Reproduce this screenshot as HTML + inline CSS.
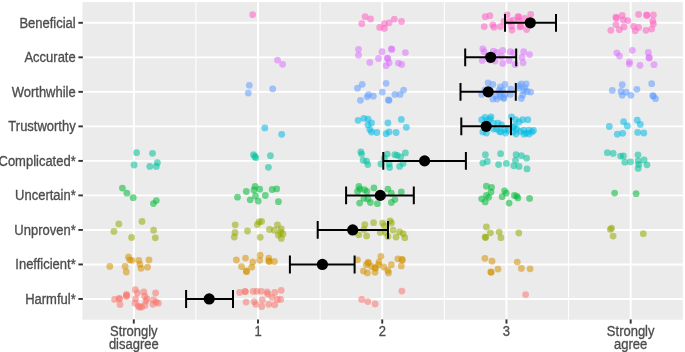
<!DOCTYPE html>
<html><head><meta charset="utf-8"><style>
html,body{margin:0;padding:0;background:#fff;width:685px;height:352px;overflow:hidden}
svg{display:block;will-change:transform}
text{font-family:"Liberation Sans",sans-serif;font-size:13px;fill:#4D4D4D;stroke:#4D4D4D;stroke-width:0.3px}
</style></head><body>
<svg width="685" height="352" viewBox="0 0 685 352">
<rect x="82.4" y="2.1" width="600.4" height="317.59999999999997" fill="#EBEBEB"/>
<line x1="195.91" y1="2.1" x2="195.91" y2="319.7" stroke="#fff" stroke-width="1"/>
<line x1="320.13" y1="2.1" x2="320.13" y2="319.7" stroke="#fff" stroke-width="1"/>
<line x1="444.35" y1="2.1" x2="444.35" y2="319.7" stroke="#fff" stroke-width="1"/>
<line x1="568.57" y1="2.1" x2="568.57" y2="319.7" stroke="#fff" stroke-width="1"/>
<line x1="133.80" y1="2.1" x2="133.80" y2="319.7" stroke="#fff" stroke-width="1.9"/>
<line x1="258.02" y1="2.1" x2="258.02" y2="319.7" stroke="#fff" stroke-width="1.9"/>
<line x1="382.24" y1="2.1" x2="382.24" y2="319.7" stroke="#fff" stroke-width="1.9"/>
<line x1="506.46" y1="2.1" x2="506.46" y2="319.7" stroke="#fff" stroke-width="1.9"/>
<line x1="630.68" y1="2.1" x2="630.68" y2="319.7" stroke="#fff" stroke-width="1.9"/>
<line x1="82.4" y1="22.81" x2="682.8" y2="22.81" stroke="#fff" stroke-width="1.9"/>
<line x1="82.4" y1="57.33" x2="682.8" y2="57.33" stroke="#fff" stroke-width="1.9"/>
<line x1="82.4" y1="91.85" x2="682.8" y2="91.85" stroke="#fff" stroke-width="1.9"/>
<line x1="82.4" y1="126.37" x2="682.8" y2="126.37" stroke="#fff" stroke-width="1.9"/>
<line x1="82.4" y1="160.89" x2="682.8" y2="160.89" stroke="#fff" stroke-width="1.9"/>
<line x1="82.4" y1="195.41" x2="682.8" y2="195.41" stroke="#fff" stroke-width="1.9"/>
<line x1="82.4" y1="229.93" x2="682.8" y2="229.93" stroke="#fff" stroke-width="1.9"/>
<line x1="82.4" y1="264.45" x2="682.8" y2="264.45" stroke="#fff" stroke-width="1.9"/>
<line x1="82.4" y1="298.97" x2="682.8" y2="298.97" stroke="#fff" stroke-width="1.9"/>
<circle cx="252.7" cy="14.7" r="3.4" fill="#FF61C3" fill-opacity="0.55"/>
<circle cx="365.1" cy="16.7" r="3.4" fill="#FF61C3" fill-opacity="0.55"/>
<circle cx="370.6" cy="19.0" r="3.4" fill="#FF61C3" fill-opacity="0.55"/>
<circle cx="361.8" cy="23.7" r="3.4" fill="#FF61C3" fill-opacity="0.55"/>
<circle cx="379.7" cy="27.4" r="3.4" fill="#FF61C3" fill-opacity="0.55"/>
<circle cx="384.4" cy="23.7" r="3.4" fill="#FF61C3" fill-opacity="0.55"/>
<circle cx="384.4" cy="28.4" r="3.4" fill="#FF61C3" fill-opacity="0.55"/>
<circle cx="389.1" cy="22.8" r="3.4" fill="#FF61C3" fill-opacity="0.55"/>
<circle cx="394.3" cy="19.2" r="3.4" fill="#FF61C3" fill-opacity="0.55"/>
<circle cx="401.5" cy="21.4" r="3.4" fill="#FF61C3" fill-opacity="0.55"/>
<circle cx="485.2" cy="16.7" r="3.4" fill="#FF61C3" fill-opacity="0.55"/>
<circle cx="489.9" cy="15.7" r="3.4" fill="#FF61C3" fill-opacity="0.55"/>
<circle cx="484.2" cy="26.6" r="3.4" fill="#FF61C3" fill-opacity="0.55"/>
<circle cx="492.8" cy="24.9" r="3.4" fill="#FF61C3" fill-opacity="0.55"/>
<circle cx="494.0" cy="27.2" r="3.4" fill="#FF61C3" fill-opacity="0.55"/>
<circle cx="500.4" cy="26.6" r="3.4" fill="#FF61C3" fill-opacity="0.55"/>
<circle cx="503.9" cy="21.4" r="3.4" fill="#FF61C3" fill-opacity="0.55"/>
<circle cx="507.1" cy="14.9" r="3.4" fill="#FF61C3" fill-opacity="0.55"/>
<circle cx="509.7" cy="21.4" r="3.4" fill="#FF61C3" fill-opacity="0.55"/>
<circle cx="512.0" cy="30.1" r="3.4" fill="#FF61C3" fill-opacity="0.55"/>
<circle cx="513.2" cy="20.2" r="3.4" fill="#FF61C3" fill-opacity="0.55"/>
<circle cx="517.9" cy="16.7" r="3.4" fill="#FF61C3" fill-opacity="0.55"/>
<circle cx="519.0" cy="20.8" r="3.4" fill="#FF61C3" fill-opacity="0.55"/>
<circle cx="520.8" cy="26.0" r="3.4" fill="#FF61C3" fill-opacity="0.55"/>
<circle cx="524.9" cy="18.4" r="3.4" fill="#FF61C3" fill-opacity="0.55"/>
<circle cx="526.6" cy="29.5" r="3.4" fill="#FF61C3" fill-opacity="0.55"/>
<circle cx="530.7" cy="14.3" r="3.4" fill="#FF61C3" fill-opacity="0.55"/>
<circle cx="519.0" cy="16.9" r="3.4" fill="#FF61C3" fill-opacity="0.55"/>
<circle cx="520" cy="26.9" r="3.4" fill="#FF61C3" fill-opacity="0.55"/>
<circle cx="511.5" cy="26.0" r="3.4" fill="#FF61C3" fill-opacity="0.55"/>
<circle cx="615.9" cy="17.2" r="3.4" fill="#FF61C3" fill-opacity="0.55"/>
<circle cx="616.5" cy="18.0" r="3.4" fill="#FF61C3" fill-opacity="0.55"/>
<circle cx="622.2" cy="15.5" r="3.4" fill="#FF61C3" fill-opacity="0.55"/>
<circle cx="623.3" cy="20.0" r="3.4" fill="#FF61C3" fill-opacity="0.55"/>
<circle cx="627.8" cy="20.6" r="3.4" fill="#FF61C3" fill-opacity="0.55"/>
<circle cx="615.9" cy="24.6" r="3.4" fill="#FF61C3" fill-opacity="0.55"/>
<circle cx="610.8" cy="30.3" r="3.4" fill="#FF61C3" fill-opacity="0.55"/>
<circle cx="619.3" cy="29.7" r="3.4" fill="#FF61C3" fill-opacity="0.55"/>
<circle cx="623.9" cy="26.9" r="3.4" fill="#FF61C3" fill-opacity="0.55"/>
<circle cx="633.5" cy="26.3" r="3.4" fill="#FF61C3" fill-opacity="0.55"/>
<circle cx="638.6" cy="27.4" r="3.4" fill="#FF61C3" fill-opacity="0.55"/>
<circle cx="635.2" cy="30.8" r="3.4" fill="#FF61C3" fill-opacity="0.55"/>
<circle cx="638.6" cy="14.4" r="3.4" fill="#FF61C3" fill-opacity="0.55"/>
<circle cx="646.6" cy="14.9" r="3.4" fill="#FF61C3" fill-opacity="0.55"/>
<circle cx="647.0" cy="15.5" r="3.4" fill="#FF61C3" fill-opacity="0.55"/>
<circle cx="653.4" cy="14.9" r="3.4" fill="#FF61C3" fill-opacity="0.55"/>
<circle cx="652.8" cy="21.2" r="3.4" fill="#FF61C3" fill-opacity="0.55"/>
<circle cx="653.4" cy="24.0" r="3.4" fill="#FF61C3" fill-opacity="0.55"/>
<circle cx="646.0" cy="30.3" r="3.4" fill="#FF61C3" fill-opacity="0.55"/>
<circle cx="651.7" cy="29.1" r="3.4" fill="#FF61C3" fill-opacity="0.55"/>
<circle cx="277.5" cy="60.1" r="3.4" fill="#DB72FB" fill-opacity="0.55"/>
<circle cx="282.6" cy="64.3" r="3.4" fill="#DB72FB" fill-opacity="0.55"/>
<circle cx="358.5" cy="49.3" r="3.4" fill="#DB72FB" fill-opacity="0.55"/>
<circle cx="358.5" cy="55.2" r="3.4" fill="#DB72FB" fill-opacity="0.55"/>
<circle cx="369.8" cy="62.4" r="3.4" fill="#DB72FB" fill-opacity="0.55"/>
<circle cx="378.5" cy="58.5" r="3.4" fill="#DB72FB" fill-opacity="0.55"/>
<circle cx="382.0" cy="51.7" r="3.4" fill="#DB72FB" fill-opacity="0.55"/>
<circle cx="391.4" cy="48.8" r="3.4" fill="#DB72FB" fill-opacity="0.55"/>
<circle cx="391.8" cy="49.4" r="3.4" fill="#DB72FB" fill-opacity="0.55"/>
<circle cx="387.3" cy="58.1" r="3.4" fill="#DB72FB" fill-opacity="0.55"/>
<circle cx="387.8" cy="58.6" r="3.4" fill="#DB72FB" fill-opacity="0.55"/>
<circle cx="389.1" cy="62.8" r="3.4" fill="#DB72FB" fill-opacity="0.55"/>
<circle cx="386.1" cy="65.7" r="3.4" fill="#DB72FB" fill-opacity="0.55"/>
<circle cx="398.4" cy="63.1" r="3.4" fill="#DB72FB" fill-opacity="0.55"/>
<circle cx="401.7" cy="64.5" r="3.4" fill="#DB72FB" fill-opacity="0.55"/>
<circle cx="405.4" cy="52.6" r="3.4" fill="#DB72FB" fill-opacity="0.55"/>
<circle cx="482.8" cy="48.8" r="3.4" fill="#DB72FB" fill-opacity="0.55"/>
<circle cx="484.0" cy="51.7" r="3.4" fill="#DB72FB" fill-opacity="0.55"/>
<circle cx="482.3" cy="60.4" r="3.4" fill="#DB72FB" fill-opacity="0.55"/>
<circle cx="493.4" cy="51.1" r="3.4" fill="#DB72FB" fill-opacity="0.55"/>
<circle cx="496.9" cy="52.3" r="3.4" fill="#DB72FB" fill-opacity="0.55"/>
<circle cx="495.1" cy="61.0" r="3.4" fill="#DB72FB" fill-opacity="0.55"/>
<circle cx="502.7" cy="50.5" r="3.4" fill="#DB72FB" fill-opacity="0.55"/>
<circle cx="501.5" cy="56.4" r="3.4" fill="#DB72FB" fill-opacity="0.55"/>
<circle cx="502.7" cy="63.4" r="3.4" fill="#DB72FB" fill-opacity="0.55"/>
<circle cx="510.3" cy="51.7" r="3.4" fill="#DB72FB" fill-opacity="0.55"/>
<circle cx="509.1" cy="60.4" r="3.4" fill="#DB72FB" fill-opacity="0.55"/>
<circle cx="513.8" cy="52.8" r="3.4" fill="#DB72FB" fill-opacity="0.55"/>
<circle cx="515.0" cy="64.5" r="3.4" fill="#DB72FB" fill-opacity="0.55"/>
<circle cx="523.7" cy="51.7" r="3.4" fill="#DB72FB" fill-opacity="0.55"/>
<circle cx="522.0" cy="57.5" r="3.4" fill="#DB72FB" fill-opacity="0.55"/>
<circle cx="523.1" cy="62.8" r="3.4" fill="#DB72FB" fill-opacity="0.55"/>
<circle cx="529.6" cy="54.6" r="3.4" fill="#DB72FB" fill-opacity="0.55"/>
<circle cx="488" cy="56" r="3.4" fill="#DB72FB" fill-opacity="0.55"/>
<circle cx="490" cy="60" r="3.4" fill="#DB72FB" fill-opacity="0.55"/>
<circle cx="616.8" cy="52.8" r="3.4" fill="#DB72FB" fill-opacity="0.55"/>
<circle cx="619.5" cy="56.0" r="3.4" fill="#DB72FB" fill-opacity="0.55"/>
<circle cx="632.4" cy="50.3" r="3.4" fill="#DB72FB" fill-opacity="0.55"/>
<circle cx="629.5" cy="61.9" r="3.4" fill="#DB72FB" fill-opacity="0.55"/>
<circle cx="629.3" cy="64.1" r="3.4" fill="#DB72FB" fill-opacity="0.55"/>
<circle cx="640.0" cy="65.3" r="3.4" fill="#DB72FB" fill-opacity="0.55"/>
<circle cx="648.3" cy="52.5" r="3.4" fill="#DB72FB" fill-opacity="0.55"/>
<circle cx="648.9" cy="57.5" r="3.4" fill="#DB72FB" fill-opacity="0.55"/>
<circle cx="649.3" cy="58.0" r="3.4" fill="#DB72FB" fill-opacity="0.55"/>
<circle cx="654.0" cy="64.7" r="3.4" fill="#DB72FB" fill-opacity="0.55"/>
<circle cx="249.3" cy="85.3" r="3.4" fill="#619CFF" fill-opacity="0.55"/>
<circle cx="248.3" cy="93.1" r="3.4" fill="#619CFF" fill-opacity="0.55"/>
<circle cx="272.7" cy="88.9" r="3.4" fill="#619CFF" fill-opacity="0.55"/>
<circle cx="362.2" cy="84.3" r="3.4" fill="#619CFF" fill-opacity="0.55"/>
<circle cx="357.5" cy="88.2" r="3.4" fill="#619CFF" fill-opacity="0.55"/>
<circle cx="360.4" cy="100.3" r="3.4" fill="#619CFF" fill-opacity="0.55"/>
<circle cx="367.1" cy="96.8" r="3.4" fill="#619CFF" fill-opacity="0.55"/>
<circle cx="368.6" cy="94.6" r="3.4" fill="#619CFF" fill-opacity="0.55"/>
<circle cx="373.3" cy="96.2" r="3.4" fill="#619CFF" fill-opacity="0.55"/>
<circle cx="386.1" cy="83.3" r="3.4" fill="#619CFF" fill-opacity="0.55"/>
<circle cx="382.3" cy="92.1" r="3.4" fill="#619CFF" fill-opacity="0.55"/>
<circle cx="388.5" cy="99.9" r="3.4" fill="#619CFF" fill-opacity="0.55"/>
<circle cx="389.0" cy="100.3" r="3.4" fill="#619CFF" fill-opacity="0.55"/>
<circle cx="394.9" cy="94.4" r="3.4" fill="#619CFF" fill-opacity="0.55"/>
<circle cx="400.1" cy="94.4" r="3.4" fill="#619CFF" fill-opacity="0.55"/>
<circle cx="403.6" cy="90.1" r="3.4" fill="#619CFF" fill-opacity="0.55"/>
<circle cx="488.1" cy="82.8" r="3.4" fill="#619CFF" fill-opacity="0.55"/>
<circle cx="492.8" cy="84.5" r="3.4" fill="#619CFF" fill-opacity="0.55"/>
<circle cx="481.7" cy="94.4" r="3.4" fill="#619CFF" fill-opacity="0.55"/>
<circle cx="492.8" cy="99.1" r="3.4" fill="#619CFF" fill-opacity="0.55"/>
<circle cx="496.9" cy="99.1" r="3.4" fill="#619CFF" fill-opacity="0.55"/>
<circle cx="500.4" cy="86.8" r="3.4" fill="#619CFF" fill-opacity="0.55"/>
<circle cx="505.0" cy="84.5" r="3.4" fill="#619CFF" fill-opacity="0.55"/>
<circle cx="499.8" cy="93.3" r="3.4" fill="#619CFF" fill-opacity="0.55"/>
<circle cx="503.3" cy="97.4" r="3.4" fill="#619CFF" fill-opacity="0.55"/>
<circle cx="502.7" cy="90.4" r="3.4" fill="#619CFF" fill-opacity="0.55"/>
<circle cx="510.9" cy="89.2" r="3.4" fill="#619CFF" fill-opacity="0.55"/>
<circle cx="510.3" cy="94.4" r="3.4" fill="#619CFF" fill-opacity="0.55"/>
<circle cx="521.4" cy="83.9" r="3.4" fill="#619CFF" fill-opacity="0.55"/>
<circle cx="526.1" cy="83.9" r="3.4" fill="#619CFF" fill-opacity="0.55"/>
<circle cx="523.7" cy="90.4" r="3.4" fill="#619CFF" fill-opacity="0.55"/>
<circle cx="527.2" cy="91.5" r="3.4" fill="#619CFF" fill-opacity="0.55"/>
<circle cx="530.7" cy="92.1" r="3.4" fill="#619CFF" fill-opacity="0.55"/>
<circle cx="521.4" cy="98.5" r="3.4" fill="#619CFF" fill-opacity="0.55"/>
<circle cx="519.0" cy="85.7" r="3.4" fill="#619CFF" fill-opacity="0.55"/>
<circle cx="485" cy="90" r="3.4" fill="#619CFF" fill-opacity="0.55"/>
<circle cx="495.9" cy="96.0" r="3.4" fill="#619CFF" fill-opacity="0.55"/>
<circle cx="500.6" cy="96.8" r="3.4" fill="#619CFF" fill-opacity="0.55"/>
<circle cx="503.9" cy="98.5" r="3.4" fill="#619CFF" fill-opacity="0.55"/>
<circle cx="505.0" cy="94.4" r="3.4" fill="#619CFF" fill-opacity="0.55"/>
<circle cx="499.2" cy="90.4" r="3.4" fill="#619CFF" fill-opacity="0.55"/>
<circle cx="518.5" cy="88.0" r="3.4" fill="#619CFF" fill-opacity="0.55"/>
<circle cx="522.6" cy="95.0" r="3.4" fill="#619CFF" fill-opacity="0.55"/>
<circle cx="524.9" cy="88.0" r="3.4" fill="#619CFF" fill-opacity="0.55"/>
<circle cx="612.3" cy="90.4" r="3.4" fill="#619CFF" fill-opacity="0.55"/>
<circle cx="622.2" cy="84.7" r="3.4" fill="#619CFF" fill-opacity="0.55"/>
<circle cx="621.0" cy="91.5" r="3.4" fill="#619CFF" fill-opacity="0.55"/>
<circle cx="622.2" cy="95.3" r="3.4" fill="#619CFF" fill-opacity="0.55"/>
<circle cx="626.1" cy="92.2" r="3.4" fill="#619CFF" fill-opacity="0.55"/>
<circle cx="630.9" cy="95.3" r="3.4" fill="#619CFF" fill-opacity="0.55"/>
<circle cx="636.9" cy="89.3" r="3.4" fill="#619CFF" fill-opacity="0.55"/>
<circle cx="651.7" cy="83.7" r="3.4" fill="#619CFF" fill-opacity="0.55"/>
<circle cx="652.8" cy="95.6" r="3.4" fill="#619CFF" fill-opacity="0.55"/>
<circle cx="653.4" cy="96.2" r="3.4" fill="#619CFF" fill-opacity="0.55"/>
<circle cx="655.5" cy="98.7" r="3.4" fill="#619CFF" fill-opacity="0.55"/>
<circle cx="264.8" cy="127.9" r="3.4" fill="#00B9E3" fill-opacity="0.55"/>
<circle cx="281.7" cy="134.3" r="3.4" fill="#00B9E3" fill-opacity="0.55"/>
<circle cx="358.1" cy="120.3" r="3.4" fill="#00B9E3" fill-opacity="0.55"/>
<circle cx="363.9" cy="118.3" r="3.4" fill="#00B9E3" fill-opacity="0.55"/>
<circle cx="368.0" cy="119.1" r="3.4" fill="#00B9E3" fill-opacity="0.55"/>
<circle cx="371.5" cy="123.0" r="3.4" fill="#00B9E3" fill-opacity="0.55"/>
<circle cx="368.0" cy="124.9" r="3.4" fill="#00B9E3" fill-opacity="0.55"/>
<circle cx="369.8" cy="129.6" r="3.4" fill="#00B9E3" fill-opacity="0.55"/>
<circle cx="371.5" cy="132.0" r="3.4" fill="#00B9E3" fill-opacity="0.55"/>
<circle cx="376.8" cy="132.5" r="3.4" fill="#00B9E3" fill-opacity="0.55"/>
<circle cx="387.9" cy="123.0" r="3.4" fill="#00B9E3" fill-opacity="0.55"/>
<circle cx="386.1" cy="133.7" r="3.4" fill="#00B9E3" fill-opacity="0.55"/>
<circle cx="389.1" cy="131.9" r="3.4" fill="#00B9E3" fill-opacity="0.55"/>
<circle cx="396.1" cy="132.5" r="3.4" fill="#00B9E3" fill-opacity="0.55"/>
<circle cx="401.3" cy="119.4" r="3.4" fill="#00B9E3" fill-opacity="0.55"/>
<circle cx="406.3" cy="127.3" r="3.4" fill="#00B9E3" fill-opacity="0.55"/>
<circle cx="481.7" cy="119.7" r="3.4" fill="#00B9E3" fill-opacity="0.55"/>
<circle cx="485.2" cy="117.3" r="3.4" fill="#00B9E3" fill-opacity="0.55"/>
<circle cx="491.0" cy="116.8" r="3.4" fill="#00B9E3" fill-opacity="0.55"/>
<circle cx="487" cy="120.5" r="3.4" fill="#00B9E3" fill-opacity="0.55"/>
<circle cx="490" cy="119" r="3.4" fill="#00B9E3" fill-opacity="0.55"/>
<circle cx="496.5" cy="129" r="3.4" fill="#00B9E3" fill-opacity="0.55"/>
<circle cx="499.5" cy="131.5" r="3.4" fill="#00B9E3" fill-opacity="0.55"/>
<circle cx="505.5" cy="133" r="3.4" fill="#00B9E3" fill-opacity="0.55"/>
<circle cx="508" cy="130.5" r="3.4" fill="#00B9E3" fill-opacity="0.55"/>
<circle cx="482.8" cy="131.9" r="3.4" fill="#00B9E3" fill-opacity="0.55"/>
<circle cx="486.4" cy="133.1" r="3.4" fill="#00B9E3" fill-opacity="0.55"/>
<circle cx="493.4" cy="123.2" r="3.4" fill="#00B9E3" fill-opacity="0.55"/>
<circle cx="493.4" cy="129.0" r="3.4" fill="#00B9E3" fill-opacity="0.55"/>
<circle cx="498.0" cy="123.2" r="3.4" fill="#00B9E3" fill-opacity="0.55"/>
<circle cx="501.5" cy="124.9" r="3.4" fill="#00B9E3" fill-opacity="0.55"/>
<circle cx="501.0" cy="131.9" r="3.4" fill="#00B9E3" fill-opacity="0.55"/>
<circle cx="505.0" cy="129.6" r="3.4" fill="#00B9E3" fill-opacity="0.55"/>
<circle cx="511.5" cy="116.8" r="3.4" fill="#00B9E3" fill-opacity="0.55"/>
<circle cx="515.5" cy="119.7" r="3.4" fill="#00B9E3" fill-opacity="0.55"/>
<circle cx="519.0" cy="122.0" r="3.4" fill="#00B9E3" fill-opacity="0.55"/>
<circle cx="522.6" cy="119.7" r="3.4" fill="#00B9E3" fill-opacity="0.55"/>
<circle cx="527.8" cy="119.7" r="3.4" fill="#00B9E3" fill-opacity="0.55"/>
<circle cx="514.4" cy="126.1" r="3.4" fill="#00B9E3" fill-opacity="0.55"/>
<circle cx="516.7" cy="129.0" r="3.4" fill="#00B9E3" fill-opacity="0.55"/>
<circle cx="520.2" cy="131.4" r="3.4" fill="#00B9E3" fill-opacity="0.55"/>
<circle cx="523.7" cy="130.2" r="3.4" fill="#00B9E3" fill-opacity="0.55"/>
<circle cx="526.1" cy="133.1" r="3.4" fill="#00B9E3" fill-opacity="0.55"/>
<circle cx="529.0" cy="130.2" r="3.4" fill="#00B9E3" fill-opacity="0.55"/>
<circle cx="531.9" cy="131.9" r="3.4" fill="#00B9E3" fill-opacity="0.55"/>
<circle cx="513.2" cy="131.9" r="3.4" fill="#00B9E3" fill-opacity="0.55"/>
<circle cx="513.5" cy="127.5" r="3.4" fill="#00B9E3" fill-opacity="0.55"/>
<circle cx="516" cy="134" r="3.4" fill="#00B9E3" fill-opacity="0.55"/>
<circle cx="524" cy="134.2" r="3.4" fill="#00B9E3" fill-opacity="0.55"/>
<circle cx="529" cy="134" r="3.4" fill="#00B9E3" fill-opacity="0.55"/>
<circle cx="533.5" cy="130.5" r="3.4" fill="#00B9E3" fill-opacity="0.55"/>
<circle cx="609.3" cy="126.5" r="3.4" fill="#00B9E3" fill-opacity="0.55"/>
<circle cx="623.6" cy="121.7" r="3.4" fill="#00B9E3" fill-opacity="0.55"/>
<circle cx="627.3" cy="125.9" r="3.4" fill="#00B9E3" fill-opacity="0.55"/>
<circle cx="617.3" cy="134.2" r="3.4" fill="#00B9E3" fill-opacity="0.55"/>
<circle cx="622.7" cy="133.3" r="3.4" fill="#00B9E3" fill-opacity="0.55"/>
<circle cx="637.3" cy="120.2" r="3.4" fill="#00B9E3" fill-opacity="0.55"/>
<circle cx="640.3" cy="124.4" r="3.4" fill="#00B9E3" fill-opacity="0.55"/>
<circle cx="637.7" cy="132.4" r="3.4" fill="#00B9E3" fill-opacity="0.55"/>
<circle cx="643.8" cy="133.0" r="3.4" fill="#00B9E3" fill-opacity="0.55"/>
<circle cx="136.6" cy="152.7" r="3.4" fill="#00C19F" fill-opacity="0.55"/>
<circle cx="152.5" cy="153.3" r="3.4" fill="#00C19F" fill-opacity="0.55"/>
<circle cx="134.1" cy="165.0" r="3.4" fill="#00C19F" fill-opacity="0.55"/>
<circle cx="149.8" cy="166.4" r="3.4" fill="#00C19F" fill-opacity="0.55"/>
<circle cx="157.4" cy="162.7" r="3.4" fill="#00C19F" fill-opacity="0.55"/>
<circle cx="156.3" cy="166.4" r="3.4" fill="#00C19F" fill-opacity="0.55"/>
<circle cx="253.5" cy="154.7" r="3.4" fill="#00C19F" fill-opacity="0.55"/>
<circle cx="255.8" cy="157.7" r="3.4" fill="#00C19F" fill-opacity="0.55"/>
<circle cx="254.8" cy="156.5" r="3.4" fill="#00C19F" fill-opacity="0.55"/>
<circle cx="270.4" cy="155.7" r="3.4" fill="#00C19F" fill-opacity="0.55"/>
<circle cx="268.4" cy="167.3" r="3.4" fill="#00C19F" fill-opacity="0.55"/>
<circle cx="360.8" cy="151.8" r="3.4" fill="#00C19F" fill-opacity="0.55"/>
<circle cx="361.6" cy="154.1" r="3.4" fill="#00C19F" fill-opacity="0.55"/>
<circle cx="363.1" cy="160.3" r="3.4" fill="#00C19F" fill-opacity="0.55"/>
<circle cx="366.6" cy="161.1" r="3.4" fill="#00C19F" fill-opacity="0.55"/>
<circle cx="367.8" cy="164.6" r="3.4" fill="#00C19F" fill-opacity="0.55"/>
<circle cx="380.9" cy="164.0" r="3.4" fill="#00C19F" fill-opacity="0.55"/>
<circle cx="384.4" cy="158.2" r="3.4" fill="#00C19F" fill-opacity="0.55"/>
<circle cx="387.3" cy="154.1" r="3.4" fill="#00C19F" fill-opacity="0.55"/>
<circle cx="389.1" cy="164.0" r="3.4" fill="#00C19F" fill-opacity="0.55"/>
<circle cx="389.6" cy="167.5" r="3.4" fill="#00C19F" fill-opacity="0.55"/>
<circle cx="394.9" cy="154.7" r="3.4" fill="#00C19F" fill-opacity="0.55"/>
<circle cx="397.2" cy="155.3" r="3.4" fill="#00C19F" fill-opacity="0.55"/>
<circle cx="400.7" cy="157.0" r="3.4" fill="#00C19F" fill-opacity="0.55"/>
<circle cx="399.6" cy="166.4" r="3.4" fill="#00C19F" fill-opacity="0.55"/>
<circle cx="403.1" cy="163.4" r="3.4" fill="#00C19F" fill-opacity="0.55"/>
<circle cx="405.4" cy="152.9" r="3.4" fill="#00C19F" fill-opacity="0.55"/>
<circle cx="485.4" cy="154.7" r="3.4" fill="#00C19F" fill-opacity="0.55"/>
<circle cx="482.8" cy="163.1" r="3.4" fill="#00C19F" fill-opacity="0.55"/>
<circle cx="487.3" cy="161.5" r="3.4" fill="#00C19F" fill-opacity="0.55"/>
<circle cx="500.6" cy="153.7" r="3.4" fill="#00C19F" fill-opacity="0.55"/>
<circle cx="498.6" cy="164.6" r="3.4" fill="#00C19F" fill-opacity="0.55"/>
<circle cx="506.4" cy="163.4" r="3.4" fill="#00C19F" fill-opacity="0.55"/>
<circle cx="516.1" cy="154.7" r="3.4" fill="#00C19F" fill-opacity="0.55"/>
<circle cx="521.4" cy="155.6" r="3.4" fill="#00C19F" fill-opacity="0.55"/>
<circle cx="526.6" cy="158.2" r="3.4" fill="#00C19F" fill-opacity="0.55"/>
<circle cx="515.5" cy="160.5" r="3.4" fill="#00C19F" fill-opacity="0.55"/>
<circle cx="513.8" cy="165.8" r="3.4" fill="#00C19F" fill-opacity="0.55"/>
<circle cx="519.0" cy="166.4" r="3.4" fill="#00C19F" fill-opacity="0.55"/>
<circle cx="527.0" cy="168.9" r="3.4" fill="#00C19F" fill-opacity="0.55"/>
<circle cx="607.3" cy="152.7" r="3.4" fill="#00C19F" fill-opacity="0.55"/>
<circle cx="613.2" cy="153.4" r="3.4" fill="#00C19F" fill-opacity="0.55"/>
<circle cx="620.6" cy="156.1" r="3.4" fill="#00C19F" fill-opacity="0.55"/>
<circle cx="623.4" cy="155.9" r="3.4" fill="#00C19F" fill-opacity="0.55"/>
<circle cx="624.8" cy="162.2" r="3.4" fill="#00C19F" fill-opacity="0.55"/>
<circle cx="630.5" cy="161.8" r="3.4" fill="#00C19F" fill-opacity="0.55"/>
<circle cx="638.0" cy="154.8" r="3.4" fill="#00C19F" fill-opacity="0.55"/>
<circle cx="638.2" cy="161.0" r="3.4" fill="#00C19F" fill-opacity="0.55"/>
<circle cx="638.8" cy="164.4" r="3.4" fill="#00C19F" fill-opacity="0.55"/>
<circle cx="638.2" cy="168.4" r="3.4" fill="#00C19F" fill-opacity="0.55"/>
<circle cx="644.1" cy="159.9" r="3.4" fill="#00C19F" fill-opacity="0.55"/>
<circle cx="647.0" cy="164.8" r="3.4" fill="#00C19F" fill-opacity="0.55"/>
<circle cx="122.4" cy="188.1" r="3.4" fill="#00BA38" fill-opacity="0.55"/>
<circle cx="126.9" cy="193.2" r="3.4" fill="#00BA38" fill-opacity="0.55"/>
<circle cx="133.2" cy="197.7" r="3.4" fill="#00BA38" fill-opacity="0.55"/>
<circle cx="153.4" cy="203.6" r="3.4" fill="#00BA38" fill-opacity="0.55"/>
<circle cx="156.3" cy="200.6" r="3.4" fill="#00BA38" fill-opacity="0.55"/>
<circle cx="237.5" cy="197.2" r="3.4" fill="#00BA38" fill-opacity="0.55"/>
<circle cx="246.3" cy="191.5" r="3.4" fill="#00BA38" fill-opacity="0.55"/>
<circle cx="255.1" cy="186.4" r="3.4" fill="#00BA38" fill-opacity="0.55"/>
<circle cx="254.0" cy="190.0" r="3.4" fill="#00BA38" fill-opacity="0.55"/>
<circle cx="259.7" cy="189.2" r="3.4" fill="#00BA38" fill-opacity="0.55"/>
<circle cx="255.5" cy="196.0" r="3.4" fill="#00BA38" fill-opacity="0.55"/>
<circle cx="250.2" cy="199.8" r="3.4" fill="#00BA38" fill-opacity="0.55"/>
<circle cx="258.2" cy="201.1" r="3.4" fill="#00BA38" fill-opacity="0.55"/>
<circle cx="265.3" cy="195.5" r="3.4" fill="#00BA38" fill-opacity="0.55"/>
<circle cx="272.2" cy="189.5" r="3.4" fill="#00BA38" fill-opacity="0.55"/>
<circle cx="276.7" cy="188.9" r="3.4" fill="#00BA38" fill-opacity="0.55"/>
<circle cx="278.4" cy="201.7" r="3.4" fill="#00BA38" fill-opacity="0.55"/>
<circle cx="358.9" cy="186.4" r="3.4" fill="#00BA38" fill-opacity="0.55"/>
<circle cx="359.9" cy="189.1" r="3.4" fill="#00BA38" fill-opacity="0.55"/>
<circle cx="357.5" cy="191.4" r="3.4" fill="#00BA38" fill-opacity="0.55"/>
<circle cx="364.5" cy="189.7" r="3.4" fill="#00BA38" fill-opacity="0.55"/>
<circle cx="366.9" cy="191.4" r="3.4" fill="#00BA38" fill-opacity="0.55"/>
<circle cx="373.9" cy="187.9" r="3.4" fill="#00BA38" fill-opacity="0.55"/>
<circle cx="359.6" cy="203.1" r="3.4" fill="#00BA38" fill-opacity="0.55"/>
<circle cx="363.9" cy="198.4" r="3.4" fill="#00BA38" fill-opacity="0.55"/>
<circle cx="368.0" cy="199.0" r="3.4" fill="#00BA38" fill-opacity="0.55"/>
<circle cx="370.4" cy="202.5" r="3.4" fill="#00BA38" fill-opacity="0.55"/>
<circle cx="377.4" cy="203.7" r="3.4" fill="#00BA38" fill-opacity="0.55"/>
<circle cx="387.9" cy="189.1" r="3.4" fill="#00BA38" fill-opacity="0.55"/>
<circle cx="391.4" cy="193.2" r="3.4" fill="#00BA38" fill-opacity="0.55"/>
<circle cx="401.3" cy="192.0" r="3.4" fill="#00BA38" fill-opacity="0.55"/>
<circle cx="394.9" cy="199.6" r="3.4" fill="#00BA38" fill-opacity="0.55"/>
<circle cx="391.4" cy="202.5" r="3.4" fill="#00BA38" fill-opacity="0.55"/>
<circle cx="486.4" cy="186.2" r="3.4" fill="#00BA38" fill-opacity="0.55"/>
<circle cx="491.6" cy="187.3" r="3.4" fill="#00BA38" fill-opacity="0.55"/>
<circle cx="491.0" cy="192.0" r="3.4" fill="#00BA38" fill-opacity="0.55"/>
<circle cx="486.4" cy="195.5" r="3.4" fill="#00BA38" fill-opacity="0.55"/>
<circle cx="481.7" cy="198.8" r="3.4" fill="#00BA38" fill-opacity="0.55"/>
<circle cx="485.2" cy="201.9" r="3.4" fill="#00BA38" fill-opacity="0.55"/>
<circle cx="488.7" cy="197.3" r="3.4" fill="#00BA38" fill-opacity="0.55"/>
<circle cx="504.5" cy="190.8" r="3.4" fill="#00BA38" fill-opacity="0.55"/>
<circle cx="506.2" cy="193.2" r="3.4" fill="#00BA38" fill-opacity="0.55"/>
<circle cx="502.1" cy="196.7" r="3.4" fill="#00BA38" fill-opacity="0.55"/>
<circle cx="509.1" cy="203.1" r="3.4" fill="#00BA38" fill-opacity="0.55"/>
<circle cx="514.4" cy="195.5" r="3.4" fill="#00BA38" fill-opacity="0.55"/>
<circle cx="516.7" cy="196.1" r="3.4" fill="#00BA38" fill-opacity="0.55"/>
<circle cx="517.9" cy="197.9" r="3.4" fill="#00BA38" fill-opacity="0.55"/>
<circle cx="529.6" cy="198.4" r="3.4" fill="#00BA38" fill-opacity="0.55"/>
<circle cx="614.6" cy="193.1" r="3.4" fill="#00BA38" fill-opacity="0.55"/>
<circle cx="636.1" cy="193.7" r="3.4" fill="#00BA38" fill-opacity="0.55"/>
<circle cx="118.8" cy="223.9" r="3.4" fill="#93AA00" fill-opacity="0.55"/>
<circle cx="113.9" cy="231.4" r="3.4" fill="#93AA00" fill-opacity="0.55"/>
<circle cx="131.6" cy="237.5" r="3.4" fill="#93AA00" fill-opacity="0.55"/>
<circle cx="142.0" cy="221.4" r="3.4" fill="#93AA00" fill-opacity="0.55"/>
<circle cx="153.6" cy="230.2" r="3.4" fill="#93AA00" fill-opacity="0.55"/>
<circle cx="155.3" cy="237.8" r="3.4" fill="#93AA00" fill-opacity="0.55"/>
<circle cx="235.2" cy="224.8" r="3.4" fill="#93AA00" fill-opacity="0.55"/>
<circle cx="235.0" cy="232.5" r="3.4" fill="#93AA00" fill-opacity="0.55"/>
<circle cx="234.3" cy="237.0" r="3.4" fill="#93AA00" fill-opacity="0.55"/>
<circle cx="247.5" cy="231.0" r="3.4" fill="#93AA00" fill-opacity="0.55"/>
<circle cx="257.4" cy="224.5" r="3.4" fill="#93AA00" fill-opacity="0.55"/>
<circle cx="259.1" cy="221.9" r="3.4" fill="#93AA00" fill-opacity="0.55"/>
<circle cx="261.6" cy="221.4" r="3.4" fill="#93AA00" fill-opacity="0.55"/>
<circle cx="260.2" cy="237.3" r="3.4" fill="#93AA00" fill-opacity="0.55"/>
<circle cx="269.5" cy="229.5" r="3.4" fill="#93AA00" fill-opacity="0.55"/>
<circle cx="274.4" cy="230.2" r="3.4" fill="#93AA00" fill-opacity="0.55"/>
<circle cx="277.5" cy="224.8" r="3.4" fill="#93AA00" fill-opacity="0.55"/>
<circle cx="281.3" cy="228.8" r="3.4" fill="#93AA00" fill-opacity="0.55"/>
<circle cx="280.7" cy="232.2" r="3.4" fill="#93AA00" fill-opacity="0.55"/>
<circle cx="278.4" cy="235.0" r="3.4" fill="#93AA00" fill-opacity="0.55"/>
<circle cx="283.0" cy="233.9" r="3.4" fill="#93AA00" fill-opacity="0.55"/>
<circle cx="281.3" cy="238.4" r="3.4" fill="#93AA00" fill-opacity="0.55"/>
<circle cx="358.7" cy="234.8" r="3.4" fill="#93AA00" fill-opacity="0.55"/>
<circle cx="364.8" cy="224.6" r="3.4" fill="#93AA00" fill-opacity="0.55"/>
<circle cx="363.9" cy="229.5" r="3.4" fill="#93AA00" fill-opacity="0.55"/>
<circle cx="366.6" cy="235.9" r="3.4" fill="#93AA00" fill-opacity="0.55"/>
<circle cx="373.6" cy="222.7" r="3.4" fill="#93AA00" fill-opacity="0.55"/>
<circle cx="382.6" cy="223.1" r="3.4" fill="#93AA00" fill-opacity="0.55"/>
<circle cx="384.4" cy="226.0" r="3.4" fill="#93AA00" fill-opacity="0.55"/>
<circle cx="380.3" cy="232.4" r="3.4" fill="#93AA00" fill-opacity="0.55"/>
<circle cx="385.5" cy="232.4" r="3.4" fill="#93AA00" fill-opacity="0.55"/>
<circle cx="390.2" cy="220.8" r="3.4" fill="#93AA00" fill-opacity="0.55"/>
<circle cx="391.4" cy="223.1" r="3.4" fill="#93AA00" fill-opacity="0.55"/>
<circle cx="393.1" cy="230.1" r="3.4" fill="#93AA00" fill-opacity="0.55"/>
<circle cx="396.1" cy="237.1" r="3.4" fill="#93AA00" fill-opacity="0.55"/>
<circle cx="399.6" cy="231.9" r="3.4" fill="#93AA00" fill-opacity="0.55"/>
<circle cx="403.1" cy="233.6" r="3.4" fill="#93AA00" fill-opacity="0.55"/>
<circle cx="404.8" cy="237.7" r="3.4" fill="#93AA00" fill-opacity="0.55"/>
<circle cx="387.9" cy="236.5" r="3.4" fill="#93AA00" fill-opacity="0.55"/>
<circle cx="486.4" cy="227.0" r="3.4" fill="#93AA00" fill-opacity="0.55"/>
<circle cx="490.4" cy="232.8" r="3.4" fill="#93AA00" fill-opacity="0.55"/>
<circle cx="485.2" cy="237.1" r="3.4" fill="#93AA00" fill-opacity="0.55"/>
<circle cx="485.6" cy="237.5" r="3.4" fill="#93AA00" fill-opacity="0.55"/>
<circle cx="499.2" cy="232.1" r="3.4" fill="#93AA00" fill-opacity="0.55"/>
<circle cx="500.9" cy="237.7" r="3.4" fill="#93AA00" fill-opacity="0.55"/>
<circle cx="518.8" cy="233.0" r="3.4" fill="#93AA00" fill-opacity="0.55"/>
<circle cx="610.3" cy="229.3" r="3.4" fill="#93AA00" fill-opacity="0.55"/>
<circle cx="611.6" cy="228.2" r="3.4" fill="#93AA00" fill-opacity="0.55"/>
<circle cx="613.1" cy="236.1" r="3.4" fill="#93AA00" fill-opacity="0.55"/>
<circle cx="643.3" cy="233.7" r="3.4" fill="#93AA00" fill-opacity="0.55"/>
<circle cx="109.8" cy="266.4" r="3.4" fill="#D39200" fill-opacity="0.55"/>
<circle cx="128.5" cy="256.9" r="3.4" fill="#D39200" fill-opacity="0.55"/>
<circle cx="129.7" cy="259.8" r="3.4" fill="#D39200" fill-opacity="0.55"/>
<circle cx="131.9" cy="260.3" r="3.4" fill="#D39200" fill-opacity="0.55"/>
<circle cx="125.1" cy="266.4" r="3.4" fill="#D39200" fill-opacity="0.55"/>
<circle cx="126.3" cy="272.0" r="3.4" fill="#D39200" fill-opacity="0.55"/>
<circle cx="138.8" cy="260.3" r="3.4" fill="#D39200" fill-opacity="0.55"/>
<circle cx="139.9" cy="264.3" r="3.4" fill="#D39200" fill-opacity="0.55"/>
<circle cx="141.0" cy="268.3" r="3.4" fill="#D39200" fill-opacity="0.55"/>
<circle cx="149.0" cy="260.0" r="3.4" fill="#D39200" fill-opacity="0.55"/>
<circle cx="147.5" cy="267.2" r="3.4" fill="#D39200" fill-opacity="0.55"/>
<circle cx="236.4" cy="260.0" r="3.4" fill="#D39200" fill-opacity="0.55"/>
<circle cx="245.5" cy="258.1" r="3.4" fill="#D39200" fill-opacity="0.55"/>
<circle cx="241.5" cy="266.6" r="3.4" fill="#D39200" fill-opacity="0.55"/>
<circle cx="246.6" cy="271.7" r="3.4" fill="#D39200" fill-opacity="0.55"/>
<circle cx="246.2" cy="271.0" r="3.4" fill="#D39200" fill-opacity="0.55"/>
<circle cx="251.7" cy="267.2" r="3.4" fill="#D39200" fill-opacity="0.55"/>
<circle cx="252.8" cy="262.0" r="3.4" fill="#D39200" fill-opacity="0.55"/>
<circle cx="260.2" cy="255.2" r="3.4" fill="#D39200" fill-opacity="0.55"/>
<circle cx="259.7" cy="260.3" r="3.4" fill="#D39200" fill-opacity="0.55"/>
<circle cx="268.8" cy="258.1" r="3.4" fill="#D39200" fill-opacity="0.55"/>
<circle cx="268.8" cy="260.9" r="3.4" fill="#D39200" fill-opacity="0.55"/>
<circle cx="269.3" cy="261.5" r="3.4" fill="#D39200" fill-opacity="0.55"/>
<circle cx="274.4" cy="261.5" r="3.4" fill="#D39200" fill-opacity="0.55"/>
<circle cx="357.5" cy="259.8" r="3.4" fill="#D39200" fill-opacity="0.55"/>
<circle cx="368.0" cy="262.4" r="3.4" fill="#D39200" fill-opacity="0.55"/>
<circle cx="368.5" cy="263.0" r="3.4" fill="#D39200" fill-opacity="0.55"/>
<circle cx="366.3" cy="264.7" r="3.4" fill="#D39200" fill-opacity="0.55"/>
<circle cx="363.4" cy="271.1" r="3.4" fill="#D39200" fill-opacity="0.55"/>
<circle cx="367.4" cy="272.9" r="3.4" fill="#D39200" fill-opacity="0.55"/>
<circle cx="371.5" cy="266.4" r="3.4" fill="#D39200" fill-opacity="0.55"/>
<circle cx="375.0" cy="267.6" r="3.4" fill="#D39200" fill-opacity="0.55"/>
<circle cx="375.5" cy="268.2" r="3.4" fill="#D39200" fill-opacity="0.55"/>
<circle cx="375.0" cy="272.3" r="3.4" fill="#D39200" fill-opacity="0.55"/>
<circle cx="380.9" cy="256.3" r="3.4" fill="#D39200" fill-opacity="0.55"/>
<circle cx="379.1" cy="261.8" r="3.4" fill="#D39200" fill-opacity="0.55"/>
<circle cx="378.5" cy="264.7" r="3.4" fill="#D39200" fill-opacity="0.55"/>
<circle cx="383.8" cy="267.0" r="3.4" fill="#D39200" fill-opacity="0.55"/>
<circle cx="387.9" cy="270.5" r="3.4" fill="#D39200" fill-opacity="0.55"/>
<circle cx="391.4" cy="264.7" r="3.4" fill="#D39200" fill-opacity="0.55"/>
<circle cx="388.5" cy="272.9" r="3.4" fill="#D39200" fill-opacity="0.55"/>
<circle cx="397.8" cy="258.8" r="3.4" fill="#D39200" fill-opacity="0.55"/>
<circle cx="401.9" cy="259.4" r="3.4" fill="#D39200" fill-opacity="0.55"/>
<circle cx="402.4" cy="260.0" r="3.4" fill="#D39200" fill-opacity="0.55"/>
<circle cx="401.3" cy="265.9" r="3.4" fill="#D39200" fill-opacity="0.55"/>
<circle cx="484.9" cy="258.3" r="3.4" fill="#D39200" fill-opacity="0.55"/>
<circle cx="492.0" cy="261.2" r="3.4" fill="#D39200" fill-opacity="0.55"/>
<circle cx="490.8" cy="271.9" r="3.4" fill="#D39200" fill-opacity="0.55"/>
<circle cx="491.2" cy="272.3" r="3.4" fill="#D39200" fill-opacity="0.55"/>
<circle cx="498.0" cy="269.1" r="3.4" fill="#D39200" fill-opacity="0.55"/>
<circle cx="517.3" cy="262.1" r="3.4" fill="#D39200" fill-opacity="0.55"/>
<circle cx="521.4" cy="268.4" r="3.4" fill="#D39200" fill-opacity="0.55"/>
<circle cx="530.1" cy="268.8" r="3.4" fill="#D39200" fill-opacity="0.55"/>
<circle cx="114.6" cy="299.4" r="3.4" fill="#F8766D" fill-opacity="0.55"/>
<circle cx="119.2" cy="298.4" r="3.4" fill="#F8766D" fill-opacity="0.55"/>
<circle cx="119.6" cy="298.8" r="3.4" fill="#F8766D" fill-opacity="0.55"/>
<circle cx="120.0" cy="304.6" r="3.4" fill="#F8766D" fill-opacity="0.55"/>
<circle cx="126.5" cy="294.3" r="3.4" fill="#F8766D" fill-opacity="0.55"/>
<circle cx="126.6" cy="295.5" r="3.4" fill="#F8766D" fill-opacity="0.55"/>
<circle cx="126.4" cy="296.5" r="3.4" fill="#F8766D" fill-opacity="0.55"/>
<circle cx="135.4" cy="289.7" r="3.4" fill="#F8766D" fill-opacity="0.55"/>
<circle cx="137.3" cy="293.0" r="3.4" fill="#F8766D" fill-opacity="0.55"/>
<circle cx="135.6" cy="298.9" r="3.4" fill="#F8766D" fill-opacity="0.55"/>
<circle cx="135.1" cy="303.2" r="3.4" fill="#F8766D" fill-opacity="0.55"/>
<circle cx="138.3" cy="305.9" r="3.4" fill="#F8766D" fill-opacity="0.55"/>
<circle cx="141.6" cy="307.0" r="3.4" fill="#F8766D" fill-opacity="0.55"/>
<circle cx="143.8" cy="291.9" r="3.4" fill="#F8766D" fill-opacity="0.55"/>
<circle cx="144.8" cy="296.2" r="3.4" fill="#F8766D" fill-opacity="0.55"/>
<circle cx="145.9" cy="301.1" r="3.4" fill="#F8766D" fill-opacity="0.55"/>
<circle cx="144.8" cy="305.4" r="3.4" fill="#F8766D" fill-opacity="0.55"/>
<circle cx="147" cy="299" r="3.4" fill="#F8766D" fill-opacity="0.55"/>
<circle cx="139.5" cy="307.2" r="3.4" fill="#F8766D" fill-opacity="0.55"/>
<circle cx="155.6" cy="293.0" r="3.4" fill="#F8766D" fill-opacity="0.55"/>
<circle cx="153.5" cy="300.0" r="3.4" fill="#F8766D" fill-opacity="0.55"/>
<circle cx="156.2" cy="302.1" r="3.4" fill="#F8766D" fill-opacity="0.55"/>
<circle cx="158.3" cy="303.2" r="3.4" fill="#F8766D" fill-opacity="0.55"/>
<circle cx="152.9" cy="304.3" r="3.4" fill="#F8766D" fill-opacity="0.55"/>
<circle cx="239.6" cy="292.4" r="3.4" fill="#F8766D" fill-opacity="0.55"/>
<circle cx="245.0" cy="291.3" r="3.4" fill="#F8766D" fill-opacity="0.55"/>
<circle cx="245.4" cy="291.8" r="3.4" fill="#F8766D" fill-opacity="0.55"/>
<circle cx="253.1" cy="291.3" r="3.4" fill="#F8766D" fill-opacity="0.55"/>
<circle cx="256.9" cy="291.3" r="3.4" fill="#F8766D" fill-opacity="0.55"/>
<circle cx="261.2" cy="291.3" r="3.4" fill="#F8766D" fill-opacity="0.55"/>
<circle cx="267.1" cy="291.9" r="3.4" fill="#F8766D" fill-opacity="0.55"/>
<circle cx="267.7" cy="294.0" r="3.4" fill="#F8766D" fill-opacity="0.55"/>
<circle cx="274.7" cy="292.4" r="3.4" fill="#F8766D" fill-opacity="0.55"/>
<circle cx="281.2" cy="290.3" r="3.4" fill="#F8766D" fill-opacity="0.55"/>
<circle cx="272.0" cy="297.3" r="3.4" fill="#F8766D" fill-opacity="0.55"/>
<circle cx="277.4" cy="299.4" r="3.4" fill="#F8766D" fill-opacity="0.55"/>
<circle cx="280.6" cy="299.4" r="3.4" fill="#F8766D" fill-opacity="0.55"/>
<circle cx="246.1" cy="302.1" r="3.4" fill="#F8766D" fill-opacity="0.55"/>
<circle cx="254.2" cy="301.6" r="3.4" fill="#F8766D" fill-opacity="0.55"/>
<circle cx="255.8" cy="304.3" r="3.4" fill="#F8766D" fill-opacity="0.55"/>
<circle cx="262.3" cy="300.0" r="3.4" fill="#F8766D" fill-opacity="0.55"/>
<circle cx="261.7" cy="306.5" r="3.4" fill="#F8766D" fill-opacity="0.55"/>
<circle cx="268.8" cy="304.3" r="3.4" fill="#F8766D" fill-opacity="0.55"/>
<circle cx="274.7" cy="304.8" r="3.4" fill="#F8766D" fill-opacity="0.55"/>
<circle cx="361.7" cy="299.4" r="3.4" fill="#F8766D" fill-opacity="0.55"/>
<circle cx="367.8" cy="301.6" r="3.4" fill="#F8766D" fill-opacity="0.55"/>
<circle cx="375.1" cy="304.0" r="3.4" fill="#F8766D" fill-opacity="0.55"/>
<circle cx="401.9" cy="291.1" r="3.4" fill="#F8766D" fill-opacity="0.55"/>
<circle cx="525.6" cy="294.6" r="3.4" fill="#F8766D" fill-opacity="0.55"/>
<path d="M505.0 13.9V31.7M556.0 13.9V31.7M505.0 22.81H556.0" stroke="#000" stroke-width="2" fill="none"/>
<circle cx="530.3" cy="22.81" r="5.6" fill="#000"/>
<path d="M465.2 48.4V66.2M516.2 48.4V66.2M465.2 57.33H516.2" stroke="#000" stroke-width="2" fill="none"/>
<circle cx="490.7" cy="57.33" r="5.6" fill="#000"/>
<path d="M460.5 83.0V100.8M515.8 83.0V100.8M460.5 91.85H515.8" stroke="#000" stroke-width="2" fill="none"/>
<circle cx="488.2" cy="91.85" r="5.6" fill="#000"/>
<path d="M461.3 117.5V135.3M511.0 117.5V135.3M461.3 126.37H511.0" stroke="#000" stroke-width="2" fill="none"/>
<circle cx="486.2" cy="126.37" r="5.6" fill="#000"/>
<path d="M383.3 152.0V169.8M465.9 152.0V169.8M383.3 160.89H465.9" stroke="#000" stroke-width="2" fill="none"/>
<circle cx="424.6" cy="160.89" r="5.6" fill="#000"/>
<path d="M346.1 186.5V204.3M413.8 186.5V204.3M346.1 195.41H413.8" stroke="#000" stroke-width="2" fill="none"/>
<circle cx="380.3" cy="195.41" r="5.6" fill="#000"/>
<path d="M317.7 221.0V238.8M388.0 221.0V238.8M317.7 229.93H388.0" stroke="#000" stroke-width="2" fill="none"/>
<circle cx="352.7" cy="229.93" r="5.6" fill="#000"/>
<path d="M289.9 255.6V273.4M354.6 255.6V273.4M289.9 264.45H354.6" stroke="#000" stroke-width="2" fill="none"/>
<circle cx="322.4" cy="264.45" r="5.6" fill="#000"/>
<path d="M186.1 290.1V307.9M233.0 290.1V307.9M186.1 298.97H233.0" stroke="#000" stroke-width="2" fill="none"/>
<circle cx="209.2" cy="298.97" r="5.6" fill="#000"/>
<line x1="78.4" y1="22.81" x2="82.9" y2="22.81" stroke="#333" stroke-width="1.9"/>
<line x1="78.4" y1="57.33" x2="82.9" y2="57.33" stroke="#333" stroke-width="1.9"/>
<line x1="78.4" y1="91.85" x2="82.9" y2="91.85" stroke="#333" stroke-width="1.9"/>
<line x1="78.4" y1="126.37" x2="82.9" y2="126.37" stroke="#333" stroke-width="1.9"/>
<line x1="78.4" y1="160.89" x2="82.9" y2="160.89" stroke="#333" stroke-width="1.9"/>
<line x1="78.4" y1="195.41" x2="82.9" y2="195.41" stroke="#333" stroke-width="1.9"/>
<line x1="78.4" y1="229.93" x2="82.9" y2="229.93" stroke="#333" stroke-width="1.9"/>
<line x1="78.4" y1="264.45" x2="82.9" y2="264.45" stroke="#333" stroke-width="1.9"/>
<line x1="78.4" y1="298.97" x2="82.9" y2="298.97" stroke="#333" stroke-width="1.9"/>
<line x1="133.80" y1="319.4" x2="133.80" y2="323.6" stroke="#333" stroke-width="1.9"/>
<line x1="258.02" y1="319.4" x2="258.02" y2="323.6" stroke="#333" stroke-width="1.9"/>
<line x1="382.24" y1="319.4" x2="382.24" y2="323.6" stroke="#333" stroke-width="1.9"/>
<line x1="506.46" y1="319.4" x2="506.46" y2="323.6" stroke="#333" stroke-width="1.9"/>
<line x1="630.68" y1="319.4" x2="630.68" y2="323.6" stroke="#333" stroke-width="1.9"/>
<text transform="translate(75.7 27.71) scale(1 1.06)" text-anchor="end">Beneficial</text>
<text transform="translate(75.7 62.23) scale(1 1.06)" text-anchor="end">Accurate</text>
<text transform="translate(75.7 96.75) scale(1 1.06)" text-anchor="end">Worthwhile</text>
<text transform="translate(75.7 131.27) scale(1 1.06)" text-anchor="end">Trustworthy</text>
<text transform="translate(75.7 165.79) scale(1 1.06)" text-anchor="end">Complicated*</text>
<text transform="translate(75.7 200.31) scale(1 1.06)" text-anchor="end">Uncertain*</text>
<text transform="translate(75.7 234.83) scale(1 1.06)" text-anchor="end">Unproven*</text>
<text transform="translate(75.7 269.35) scale(1 1.06)" text-anchor="end">Inefficient*</text>
<text transform="translate(75.7 303.87) scale(1 1.06)" text-anchor="end">Harmful*</text>
<text transform="translate(133.80 335.80) scale(1 1.06)" text-anchor="middle">Strongly</text>
<text transform="translate(133.80 348.80) scale(1 1.06)" text-anchor="middle">disagree</text>
<text transform="translate(258.02 335.80) scale(1 1.06)" text-anchor="middle">1</text>
<text transform="translate(382.24 335.80) scale(1 1.06)" text-anchor="middle">2</text>
<text transform="translate(506.46 335.80) scale(1 1.06)" text-anchor="middle">3</text>
<text transform="translate(630.68 335.80) scale(1 1.06)" text-anchor="middle">Strongly</text>
<text transform="translate(630.68 348.80) scale(1 1.06)" text-anchor="middle">agree</text>
</svg></body></html>
